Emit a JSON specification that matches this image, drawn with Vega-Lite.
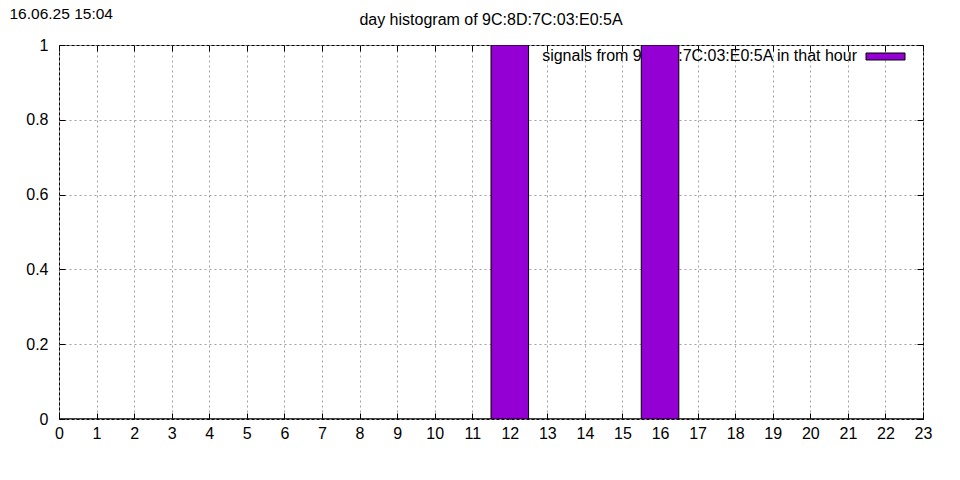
{
  "$schema": "https://vega.github.io/schema/vega-lite/v6.json",
  "width": 864,
  "height": 374,
  "autosize": {"type": "none"},
  "padding": {"left": 59, "top": 45, "right": 37, "bottom": 61},
  "background": "white",
  "config": {
    "font": "Liberation Sans",
    "view": {"stroke": "black", "strokeWidth": 1},
    "axis": {
      "domain": false,
      "tickColor": "black",
      "tickSize": -6,
      "tickWidth": 1,
      "labelColor": "black",
      "labelFontSize": 16,
      "gridColor": "#a0a0a0",
      "gridDash": [2, 3],
      "gridWidth": 1,
      "gridOpacity": 1
    }
  },
  "title": {
    "text": "day histogram of 9C:8D:7C:03:E0:5A",
    "fontSize": 16,
    "fontWeight": "normal",
    "color": "black",
    "anchor": "middle",
    "baseline": "alphabetic",
    "offset": 0,
    "dy": 35
  },
  "data": {
    "values": [
      {"hour": 0, "start": -0.5, "end": 0.5, "count": 0},
      {"hour": 1, "start": 0.5, "end": 1.5, "count": 0},
      {"hour": 2, "start": 1.5, "end": 2.5, "count": 0},
      {"hour": 3, "start": 2.5, "end": 3.5, "count": 0},
      {"hour": 4, "start": 3.5, "end": 4.5, "count": 0},
      {"hour": 5, "start": 4.5, "end": 5.5, "count": 0},
      {"hour": 6, "start": 5.5, "end": 6.5, "count": 0},
      {"hour": 7, "start": 6.5, "end": 7.5, "count": 0},
      {"hour": 8, "start": 7.5, "end": 8.5, "count": 0},
      {"hour": 9, "start": 8.5, "end": 9.5, "count": 0},
      {"hour": 10, "start": 9.5, "end": 10.5, "count": 0},
      {"hour": 11, "start": 10.5, "end": 11.5, "count": 0},
      {"hour": 12, "start": 11.5, "end": 12.5, "count": 1},
      {"hour": 13, "start": 12.5, "end": 13.5, "count": 0},
      {"hour": 14, "start": 13.5, "end": 14.5, "count": 0},
      {"hour": 15, "start": 14.5, "end": 15.5, "count": 0},
      {"hour": 16, "start": 15.5, "end": 16.5, "count": 1},
      {"hour": 17, "start": 16.5, "end": 17.5, "count": 0},
      {"hour": 18, "start": 17.5, "end": 18.5, "count": 0},
      {"hour": 19, "start": 18.5, "end": 19.5, "count": 0},
      {"hour": 20, "start": 19.5, "end": 20.5, "count": 0},
      {"hour": 21, "start": 20.5, "end": 21.5, "count": 0},
      {"hour": 22, "start": 21.5, "end": 22.5, "count": 0},
      {"hour": 23, "start": 22.5, "end": 23.5, "count": 0}
    ]
  },
  "layer": [
    {
      "data": {"values": [{"series": "signals from 9C:8D:7C:03:E0:5A in that hour"}]},
      "mark": {"type": "text", "align": "right", "baseline": "middle", "fontSize": 16, "color": "black"},
      "encoding": {
        "x": {"datum": 21.243, "type": "quantitative", "axis": null},
        "y": {"datum": 0.9706, "type": "quantitative", "axis": null},
        "text": {"field": "series", "type": "nominal"}
      }
    },
    {
      "data": {"values": [{"series": "signals from 9C:8D:7C:03:E0:5A in that hour"}]},
      "mark": {"type": "rect", "fill": "#9400d3", "stroke": "black", "strokeWidth": 1},
      "encoding": {
        "x": {"datum": 21.483, "type": "quantitative", "axis": null},
        "x2": {"datum": 22.521},
        "y": {"datum": 0.9786, "type": "quantitative", "axis": null},
        "y2": {"datum": 0.9599}
      }
    },
    {
      "mark": {"type": "bar", "clip": true, "fill": "#9400d3", "stroke": "black", "strokeWidth": 1, "orient": "vertical"},
      "encoding": {
        "x": {
          "field": "start",
          "type": "quantitative",
          "scale": {"domain": [0, 23], "nice": false, "zero": false, "padding": 0},
          "axis": {
            "orient": "bottom",
            "title": null,
            "values": [0,1,2,3,4,5,6,7,8,9,10,11,12,13,14,15,16,17,18,19,20,21,22,23],
            "format": "d",
            "labelPadding": 12,
            "labelFlush": false,
            "labelOverlap": false,
            "grid": true
          }
        },
        "x2": {"field": "end"},
        "y": {
          "field": "count",
          "type": "quantitative",
          "scale": {"domain": [0, 1], "nice": false, "padding": 0},
          "axis": {
            "orient": "left",
            "values": [0, 0.2, 0.4, 0.6, 0.8, 1],
            "format": "~g",
            "labelPadding": 17,
            "labelFlush": false,
            "grid": true,
            "title": "16.06.25 15:04",
            "titleAngle": 0,
            "titleAlign": "left",
            "titleBaseline": "alphabetic",
            "titleX": -50,
            "titleY": -27,
            "titleFontSize": 15.5,
            "titleFontWeight": "normal",
            "titleColor": "black"
          }
        },
        "y2": {"datum": 0}
      }
    },
    {
      "mark": {"type": "point", "opacity": 0},
      "encoding": {
        "x": {
          "field": "hour",
          "type": "quantitative",
          "axis": {
            "orient": "top",
            "title": null,
            "labels": false,
            "grid": false,
            "values": [0,1,2,3,4,5,6,7,8,9,10,11,12,13,14,15,16,17,18,19,20,21,22,23]
          }
        },
        "y": {
          "field": "count",
          "type": "quantitative",
          "axis": {
            "orient": "right",
            "title": null,
            "labels": false,
            "grid": false,
            "values": [0, 0.2, 0.4, 0.6, 0.8, 1]
          }
        }
      }
    }
  ],
  "resolve": {"axis": {"x": "independent", "y": "independent"}}
}
